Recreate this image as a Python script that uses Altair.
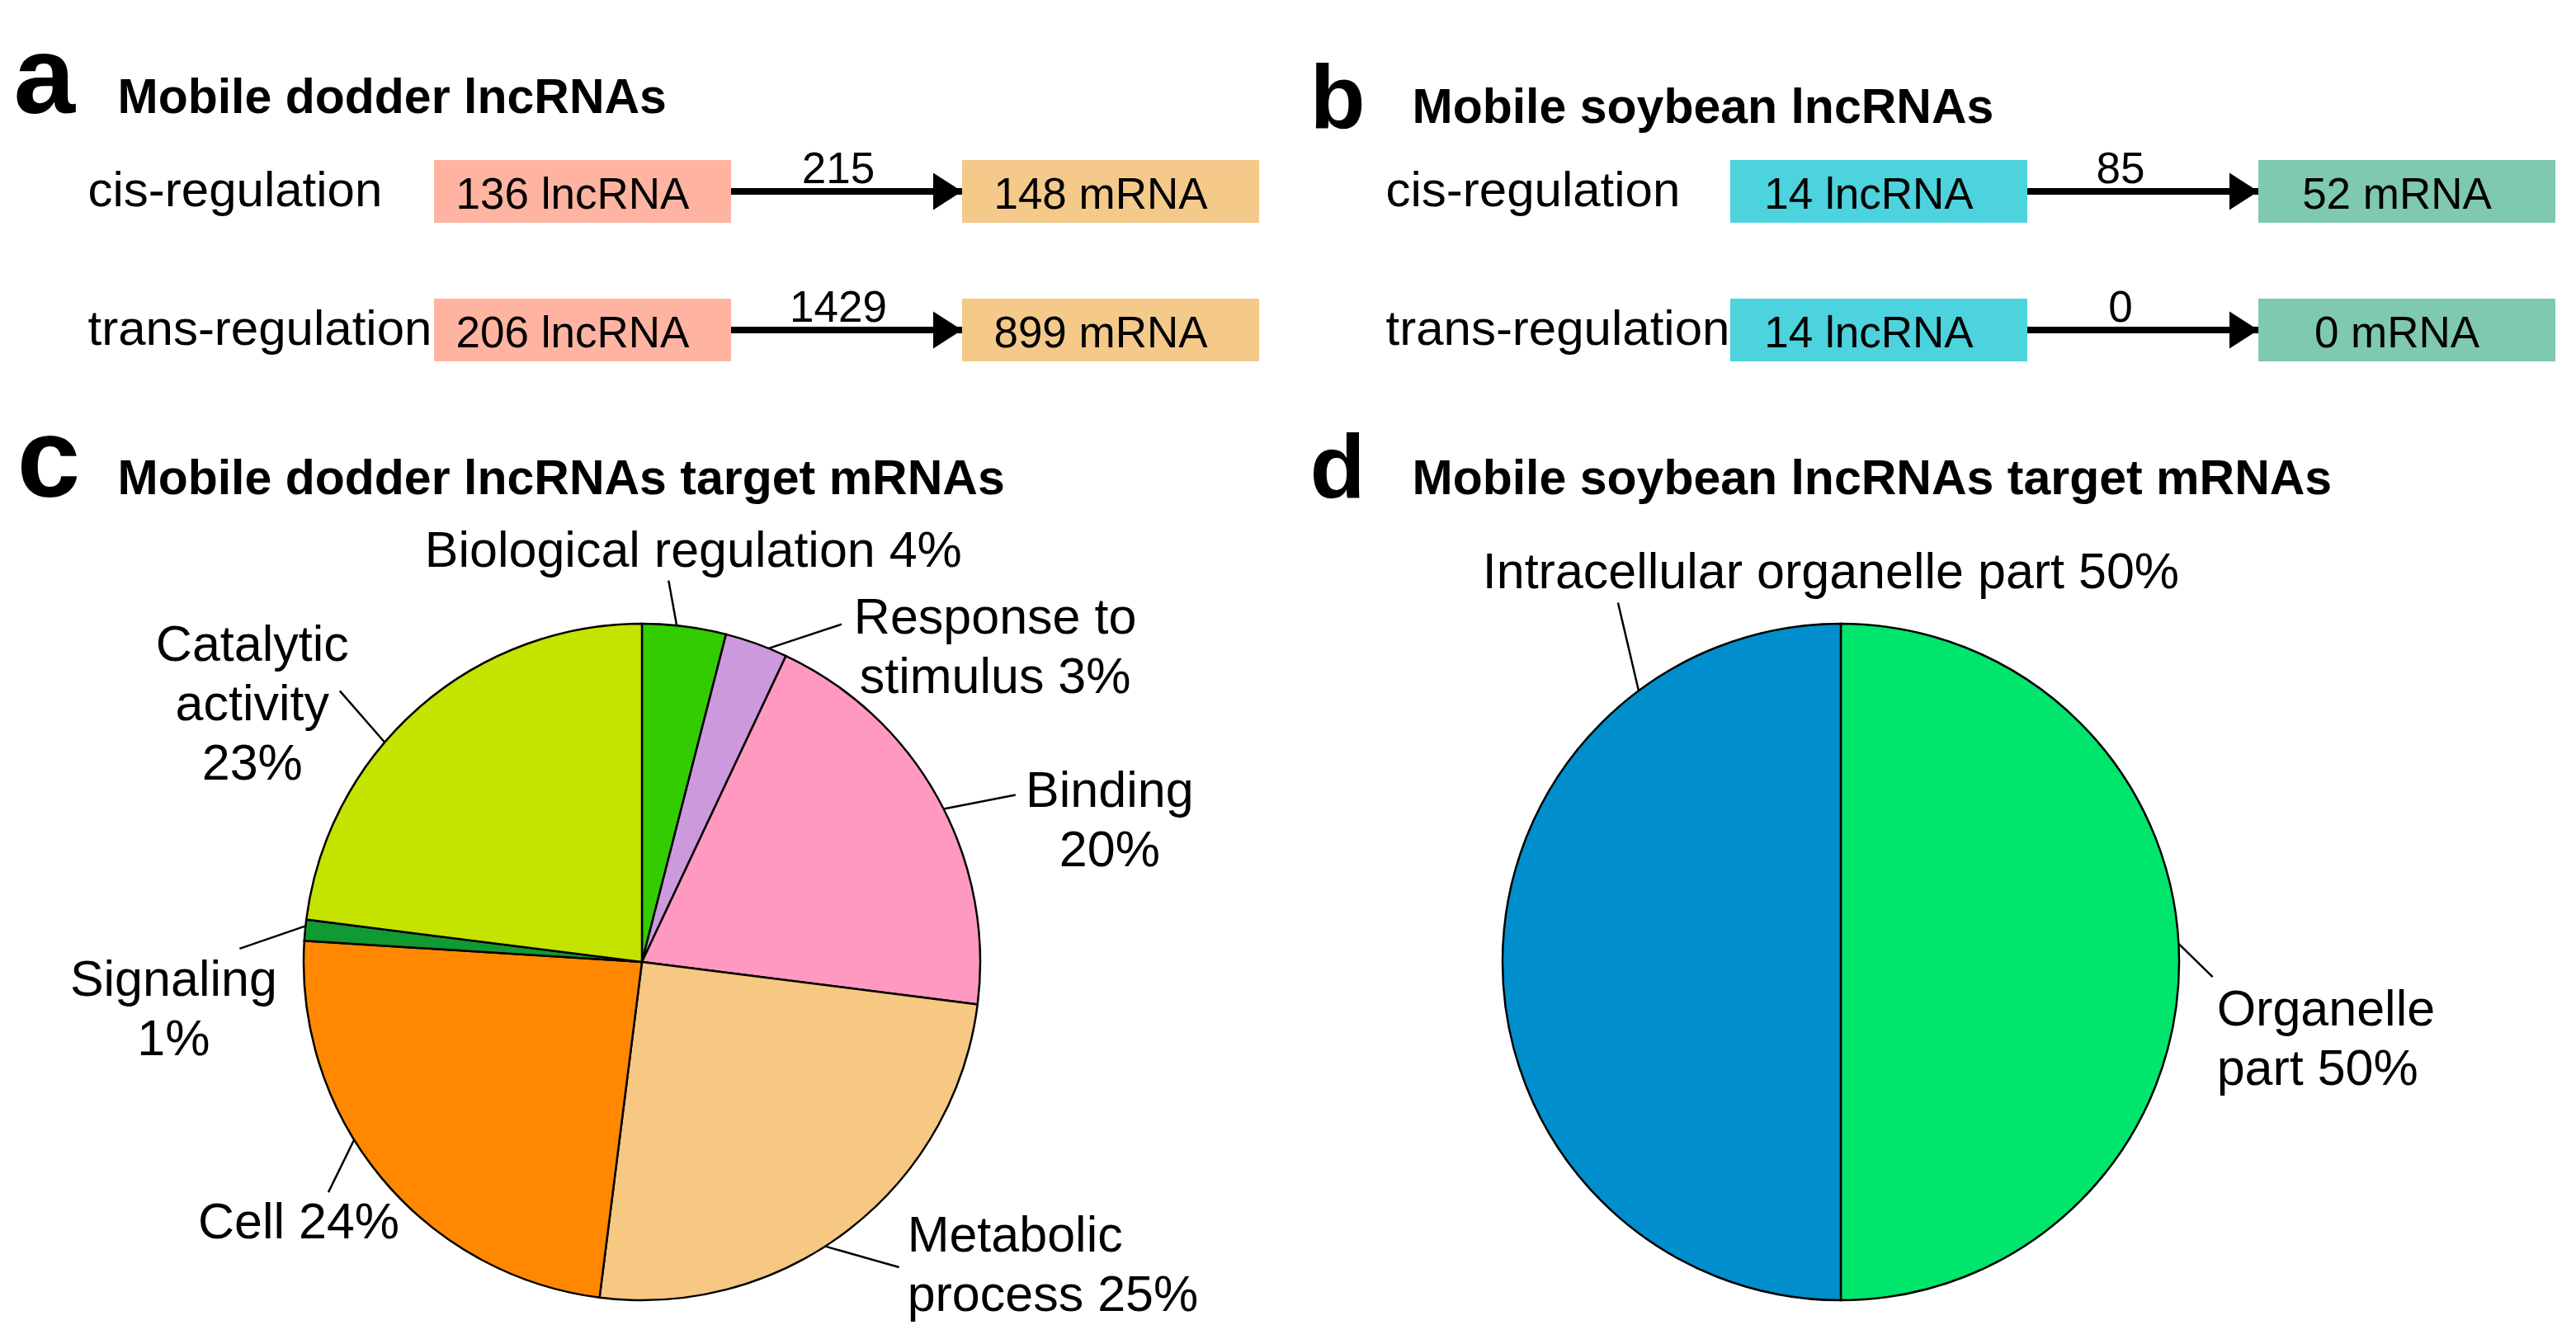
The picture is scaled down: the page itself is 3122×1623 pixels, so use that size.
import altair as alt
import pandas as pd

# ---------------- data ----------------
reg_rows = ["cis-regulation", "trans-regulation"]
node_kinds = ["lncRNA", "mRNA"]

dodder_lncrna = [136, 206]
dodder_mrna = [148, 899]
dodder_pairs = [215, 1429]

soybean_lncrna = [14, 14]
soybean_mrna = [52, 0]
soybean_pairs = [85, 0]

dodder_go_terms = ["Biological regulation", "Response to stimulus", "Binding",
                   "Metabolic process", "Cell", "Signaling", "Catalytic activity"]
dodder_go_pct = [4, 3, 20, 25, 24, 1, 23]
dodder_go_labels = ["Biological regulation 4%", "Response to\nstimulus 3%", "Binding\n20%",
                    "Metabolic\nprocess 25%", "Cell 24%", "Signaling\n1%",
                    "Catalytic\nactivity\n23%"]

soybean_go_terms = ["Organelle part", "Intracellular organelle part"]
soybean_go_pct = [50, 50]
soybean_go_labels = ["Organelle\npart 50%", "Intracellular organelle part 50%"]

# ---------------- styles / layout ----------------
FONT = "Liberation Sans"
W_LEFT = 1541
W_RIGHT = 1559
ROW1_H = 470
ROW2_H = 1130
PIE_R = 410
HEAD = "M -1.556 -1 L 0 0 L -1.556 1 Z"

dodder_node_colors = ["#FFB4A2", "#F4C98A"]
soybean_node_colors = ["#4DD3DD", "#7FC8B2"]
dodder_go_colors = ["#33CC00", "#CC99DD", "#FF99C0", "#F6C882", "#FF8800", "#119933", "#C4E400"]
soybean_go_colors = ["#00E56B", "#008FCC"]

# leader/label placement relative to each slice's mid angle:
# (leader start offset deg, leader end offset deg, end radius in pie radii, text align, text dx px, text dy px)
dodder_place = {
    "Biological regulation": (-1.3, -3.2, 1.13, "center", 30, -17),
    "Response to stimulus": (2.2, 10.8, 1.16, "center", 186, 11),
    "Binding": (1.9, 4.7, 1.21, "center", 114, 15),
    "Metabolic process": (5.0, -2.3, 1.18, "left", 10, -19),
    "Cell": (7.9, 3.3, 1.15, "center", -36, 56),
    "Signaling": (0.7, -3.5, 1.19, "center", -80, 57),
    "Catalytic activity": (-8.1, -6.7, 1.20, "center", -106, -36),
}
soybean_place = {
    "Organelle part": (-3.1, 2.3, 1.10, "left", 5, 59),
    "Intracellular organelle part": (53.3, 58.2, 1.25, "center", 258, -17),
}


def title_axis_x(heading, head_x, head_y):
    return alt.Axis(orient="top", labels=False, ticks=False, domain=False, grid=False,
                    title=heading, titleX=head_x, titleY=head_y, titleAlign="left",
                    titleBaseline="alphabetic", titleFont=FONT, titleFontSize=59,
                    titleFontWeight="bold", titleColor="black", titleLimit=3000)


def flow_panel(letter, heading, lnc, mrna, pairs, colors, width, x_range, label_x,
               letter_x, letter_y, letter_size, head_x, head_y, num_dx):
    nodes = pd.DataFrame({
        "row": reg_rows + reg_rows,
        "kind": [node_kinds[0]] * 2 + [node_kinds[1]] * 2,
        "label": [f"{n} lncRNA" for n in lnc] + [f"{n} mRNA" for n in mrna],
    })
    links = pd.DataFrame({"row": reg_rows, "src": node_kinds[0], "dst": node_kinds[1],
                          "pairs": [str(p) for p in pairs]})
    xs = alt.Scale(domain=node_kinds, range=x_range, paddingInner=0.4375, paddingOuter=0)
    ys = alt.Scale(domain=reg_rows, range=[186, 430], paddingInner=0.5476, paddingOuter=0)
    x_axis = title_axis_x(heading, head_x, head_y)
    y_axis = alt.Axis(orient="left", offset=-label_x, labelAlign="left", labelBaseline="middle",
                      labelPadding=0, ticks=False, tickSize=0, domain=False, grid=False,
                      labelFont=FONT, labelFontSize=60, labelColor="black", labelLimit=0,
                      title=letter, titleAngle=0, titleX=letter_x - label_x, titleY=letter_y,
                      titleAlign="left", titleBaseline="alphabetic", titleFont=FONT,
                      titleFontSize=letter_size, titleFontWeight="bold", titleColor="black",
                      titleLimit=3000)

    boxes = alt.Chart(nodes).mark_rect().encode(
        x=alt.X("kind:N", scale=xs, axis=x_axis),
        y=alt.Y("row:N", scale=ys, axis=y_axis),
        color=alt.Color("kind:N", scale=alt.Scale(domain=node_kinds, range=colors), legend=None),
    )
    box_text = alt.Chart(nodes).mark_text(font=FONT, fontSize=53, dx=-12, dy=5, color="black").encode(
        x=alt.X("kind:N", scale=xs, axis=x_axis),
        y=alt.Y("row:N", scale=ys, axis=y_axis),
        text="label:N",
    )
    line = alt.Chart(links).mark_rule(strokeWidth=8, color="black").encode(
        x=alt.X("src:N", bandPosition=1, scale=xs, axis=x_axis),
        x2=alt.X2("dst:N", bandPosition=0),
        y=alt.Y("row:N", bandPosition=0.5, scale=ys, axis=y_axis),
    )
    head = alt.Chart(links).mark_point(shape=HEAD, size=2025, filled=True, color="black",
                                       opacity=1, strokeWidth=0).encode(
        x=alt.X("dst:N", bandPosition=0, scale=xs, axis=x_axis),
        y=alt.Y("row:N", bandPosition=0.5, scale=ys, axis=y_axis),
    )
    pair_text = alt.Chart(links).mark_text(font=FONT, fontSize=53, dx=num_dx, dy=-10,
                                           baseline="alphabetic", color="black").encode(
        x=alt.X("src:N", bandPosition=1, scale=xs, axis=x_axis),
        y=alt.Y("row:N", bandPosition=0.5, scale=ys, axis=y_axis),
        text="pairs:N",
    )
    return alt.layer(boxes, box_text, line, head, pair_text).properties(width=width, height=ROW1_H)


def pie_panel(letter, heading, terms, pct, labels, colors, place, width, cx, cy,
              letter_x, letter_y, letter_size, head_x, head_y):
    df = pd.DataFrame({"term": terms, "pct": pct, "label": labels,
                       "order": list(range(len(terms)))})
    df["ds"] = [place[t][0] for t in terms]
    df["de"] = [place[t][1] for t in terms]
    df["rho"] = [place[t][2] for t in terms]
    df["anchor_align"] = [place[t][3] for t in terms]
    df["dx"] = [place[t][4] for t in terms]
    df["dy"] = [place[t][5] for t in terms]

    xs = alt.Scale(domain=[-cx / PIE_R, (width - cx) / PIE_R], nice=False, zero=False)
    ys = alt.Scale(domain=[-(ROW2_H - cy) / PIE_R, cy / PIE_R], nice=False, zero=False)
    x_axis = title_axis_x(heading, head_x, head_y)
    y_axis = alt.Axis(orient="left", labels=False, ticks=False, domain=False, grid=False,
                      title=letter, titleAngle=0, titleX=letter_x, titleY=letter_y,
                      titleAlign="left", titleBaseline="alphabetic", titleFont=FONT,
                      titleFontSize=letter_size, titleFontWeight="bold", titleColor="black",
                      titleLimit=3000)

    base = alt.Chart(df)
    arcs = base.mark_arc(radius=PIE_R, stroke="black", strokeWidth=2.5).encode(
        theta=alt.Theta("pct:Q", stack=True),
        order=alt.Order("order:Q", sort="ascending"),
        color=alt.Color("term:N", scale=alt.Scale(domain=terms, range=colors), legend=None),
        x=alt.XDatum(0, type="quantitative", scale=xs, axis=x_axis),
        y=alt.YDatum(0, type="quantitative", scale=ys, axis=y_axis),
    )

    def geom(ch):
        return (ch.transform_joinaggregate(total="sum(pct)")
                .transform_window(cum="sum(pct)", sort=[alt.SortField("order", order="ascending")])
                .transform_calculate(mid="2*PI*(datum.cum - datum.pct/2)/datum.total")
                .transform_calculate(a0="datum.mid + datum.ds*PI/180",
                                     a1="datum.mid + datum.de*PI/180")
                .transform_calculate(sx="sin(datum.a0)", sy="cos(datum.a0)",
                                     ex="datum.rho*sin(datum.a1)", ey="datum.rho*cos(datum.a1)")
                .transform_calculate(lx=f"datum.ex + datum.dx/{PIE_R}",
                                     ly=f"datum.ey - datum.dy/{PIE_R}"))

    leaders = geom(base).mark_rule(color="black", strokeWidth=2.5).encode(
        x=alt.X("sx:Q", scale=xs, axis=x_axis),
        y=alt.Y("sy:Q", scale=ys, axis=y_axis),
        x2="ex:Q",
        y2="ey:Q",
    )
    layers = [arcs, leaders]
    for al in ["center", "left"]:
        layers.append(
            geom(base).transform_filter(f"datum.anchor_align == '{al}'")
            .mark_text(align=al, baseline="alphabetic", font=FONT, fontSize=61,
                       lineHeight=72, lineBreak="\n", color="black")
            .encode(x=alt.X("lx:Q", scale=xs, axis=x_axis),
                    y=alt.Y("ly:Q", scale=ys, axis=y_axis),
                    text="label:N")
        )
    return alt.layer(*layers).properties(width=width, height=ROW2_H)


panel_a = flow_panel("a", "Mobile dodder lncRNAs", dodder_lncrna, dodder_mrna, dodder_pairs,
                     dodder_node_colors, W_LEFT, [518, 1518], 98, 8, 128, 134, 134, 128, 130)
panel_b = flow_panel("b", "Mobile soybean lncRNAs", soybean_lncrna, soybean_mrna, soybean_pairs,
                     soybean_node_colors, W_RIGHT, [548, 1548], 130, 38, 146, 110, 162, 140, 113)
panel_c = pie_panel("c", "Mobile dodder lncRNAs target mRNAs", dodder_go_terms, dodder_go_pct,
                    dodder_go_labels, dodder_go_colors, dodder_place, W_LEFT, 770, 688,
                    12, 123, 138, 134, 120)
panel_d = pie_panel("d", "Mobile soybean lncRNAs target mRNAs", soybean_go_terms, soybean_go_pct,
                    soybean_go_labels, soybean_go_colors, soybean_place, W_RIGHT, 682, 688,
                    38, 124, 110, 162, 120)

chart = alt.concat(panel_a, panel_b, panel_c, panel_d, columns=2, spacing=0,
                   align="each", bounds="flush").resolve_scale(
    color="independent"
).properties(
    padding=0, background="white"
).configure_view(strokeWidth=0)

chart.save("out.html", embed_options={"renderer": "svg", "actions": False})
